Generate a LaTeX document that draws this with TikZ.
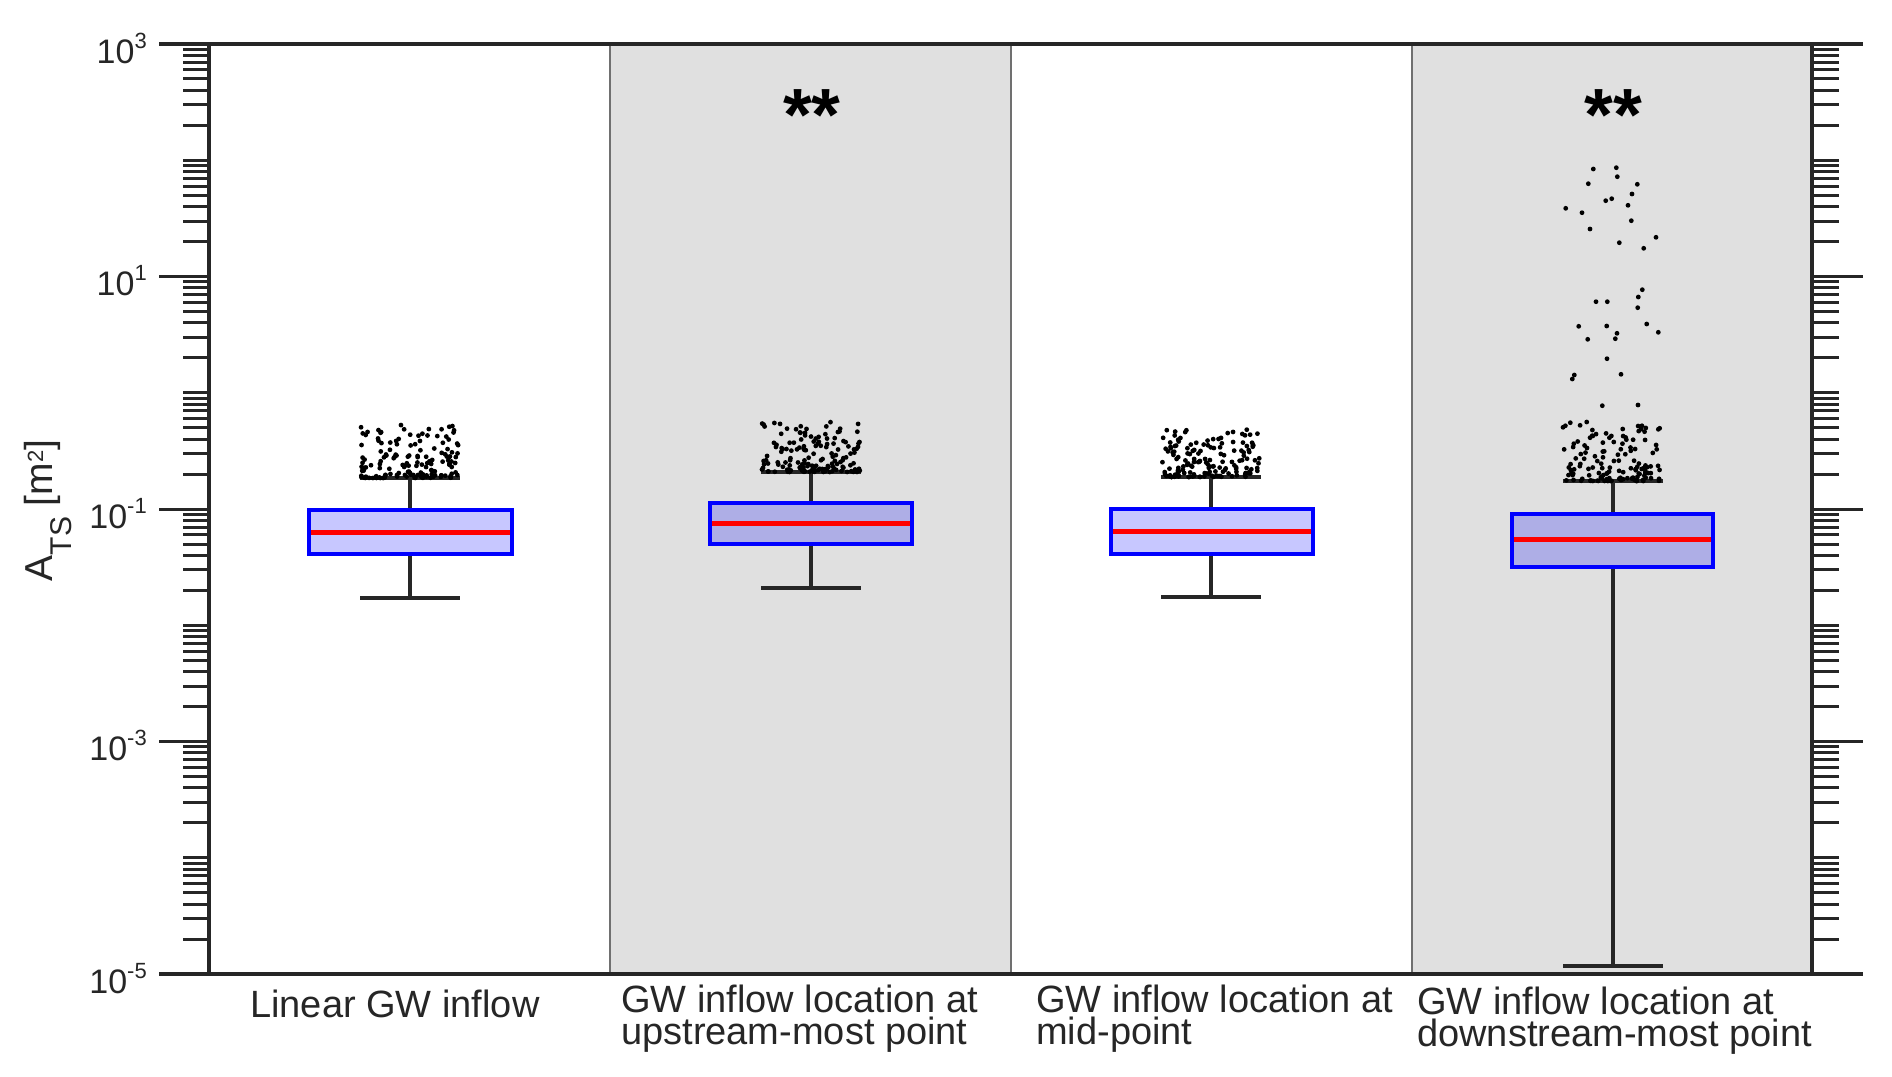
\documentclass[tikz,border=0pt]{standalone}
\usepackage{fontspec}
\setmainfont{Liberation Sans}
\definecolor{axc}{RGB}{38,38,38}
\definecolor{pgray}{RGB}{224,224,224}
\definecolor{sgray}{RGB}{112,112,112}
\definecolor{bxblue}{RGB}{0,0,255}
\definecolor{mdred}{RGB}{255,0,0}
\tikzset{
 axisline/.style={draw=axc, line width=3.4pt},
 tickline/.style={draw=axc, line width=3pt},
 sepline/.style={draw=sgray, line width=2.6pt},
 boxshape/.style={draw=bxblue, line width=3.5pt, fill=bxblue, fill opacity=0.22, draw opacity=1},
 medline/.style={draw=mdred, line width=5pt},
 whisk/.style={draw=axc, line width=3.2pt},
 dot/.style={fill=black},
 ticklab/.style={inner sep=0pt, font=\fontsize{34}{34}\selectfont, text=axc},
 xlab/.style={inner sep=0pt, font=\fontsize{38}{32}\selectfont, text=axc, align=left},
 ylab/.style={inner sep=0pt, font=\fontsize{39}{39}\selectfont, text=axc},
 stars/.style={inner sep=0pt, font=\fontsize{74}{74}\selectfont\bfseries, text=black},
}
% center, left, right, top, bottom, median, upper cap, lower cap
\newcommand{\bxp}[8]{%
 \draw[whisk] (#1,#4) -- (#1,#7);
 \draw[whisk] (#1-50,#7) -- (#1+50,#7);
 \draw[whisk] (#1,#5) -- (#1,#8);
 \draw[whisk] (#1-50,#8) -- (#1+50,#8);
 \path[boxshape] (#2,#4) rectangle (#3,#5);
 \draw[medline] (#2+1.8,#6) -- (#3-1.8,#6);
}
% center, cap, height, halfwidth, count
\newcommand{\outl}[5]{%
 \foreach \q in {1,...,#5}{%
  \pgfmathsetmacro{\ox}{#1+#4*rand}%
  \pgfmathsetmacro{\oy}{#2-#3*pow(rnd,2)}%
  \fill[dot] (\ox,\oy) circle[radius=2.4pt];
 }}
\begin{document}
\begin{tikzpicture}[x=1pt,y=-1pt]
\useasboundingbox (0,0) rectangle (1892,1076);
\fill[white] (0,0) rectangle (1892,1076);
% shaded panels
\fill[pgray] (610,44) rectangle (1011,974);
\fill[pgray] (1412,44) rectangle (1812,974);
\draw[sepline] (610,44) -- (610,974);
\draw[sepline] (1011,44) -- (1011,974);
\draw[sepline] (1412,44) -- (1412,974);
% boxes
\bxp{410}{309}{512}{510}{554}{532}{478}{598}
\bxp{811}{710}{912}{503}{544}{523}{472}{588}
\bxp{1211}{1111}{1313}{509}{554}{531}{477}{597}
\bxp{1613}{1512}{1713}{514}{567}{539}{481}{966}
% outliers
\pgfmathsetseed{4711}
\outl{410}{478}{53}{49}{150}
\outl{811}{472}{50}{49}{150}
\outl{1211}{477}{48}{49}{150}
\outl{1613}{481}{58}{49}{130}
\foreach \px/\py in {1593.3/169,1616.3/167.7,1617.3/176.7,1588.3/183.7,1637.3/184.3,1632/194,1605.7/200.7,1611.7/198.7,1628/205.3,1565.7/208.3,1582/212.7,1631.3/220.7,1590/229,1656/237.3,1619.3/242.7,1643.7/248.3,1642.3/289.7,1638.3/297,1596/301.7,1607.3/301.7,1637.7/307.7,1578.7/326.3,1606.7/326,1646.7/324,1658.3/332.3,1617/333.3,1615.3/338.7,1587.7/339.3,1607/358.7,1574.3/375,1572.3/379,1621/374.3,1602.3/405.7,1638/405,1563/427.3,1570.3/422.7,1586.7/422,1622.7/429,1658.3/429.3}
 {\fill[dot] (\px,\py) circle[radius=2.4pt];}
% axes
\draw[axisline] (159,44) -- (1863,44);
\draw[axisline] (159,974) -- (1863,974);
\draw[axisline] (209,44) -- (209,974);
\draw[axisline] (1812,44) -- (1812,974);
% minor ticks
\foreach \k in {-5,...,2}{
 \foreach \m in {2,...,9}{
  \pgfmathsetmacro{\yy}{44+(3-(\k)-log10(\m))*116.25}
  \draw[tickline] (183,\yy) -- (209,\yy);
  \draw[tickline] (1812,\yy) -- (1839,\yy);
 }}
\foreach \k in {2,0,-2,-4}{
  \pgfmathsetmacro{\yy}{44+(3-(\k))*116.25}
  \draw[tickline] (183,\yy) -- (209,\yy);
  \draw[tickline] (1812,\yy) -- (1839,\yy);
}
\foreach \k in {1,-1,-3}{
  \pgfmathsetmacro{\yy}{44+(3-(\k))*116.25}
  \draw[tickline] (159,\yy) -- (209,\yy);
  \draw[tickline] (1812,\yy) -- (1863,\yy);
}
% tick labels
\foreach \k in {3,1,-1,-3,-5}{
  \pgfmathsetmacro{\yy}{44+(3-(\k))*116.25+19}
  \node[ticklab, anchor=base east] (t\k) at (147,\yy) {10\raisebox{15pt}{\fontsize{22}{22}\selectfont\k}};
}
% y label
\node[ylab, rotate=90, anchor=base] (yl) at (52,510.5) {A\raisebox{-19pt}{\fontsize{30}{30}\selectfont TS} [m\raisebox{9pt}{\fontsize{22}{22}\selectfont 2}]};
% significance
\node[stars, anchor=base] (s2) at (812,140) {**};
\node[stars, anchor=base] (s4) at (1613,140) {**};
% x labels
\node[xlab, anchor=base west] (x1) at (250,1017) {Linear GW inflow};
\node[xlab, anchor=north west] (x2) at (621,984.3) {GW inflow location at\\upstream-most point};
\node[xlab, anchor=north west] (x3) at (1036,984.3) {GW inflow location at\\mid-point};
\node[xlab, anchor=north west] (x4) at (1417,986.3) {GW inflow location at\\downstream-most point};
\end{tikzpicture}
\end{document}
